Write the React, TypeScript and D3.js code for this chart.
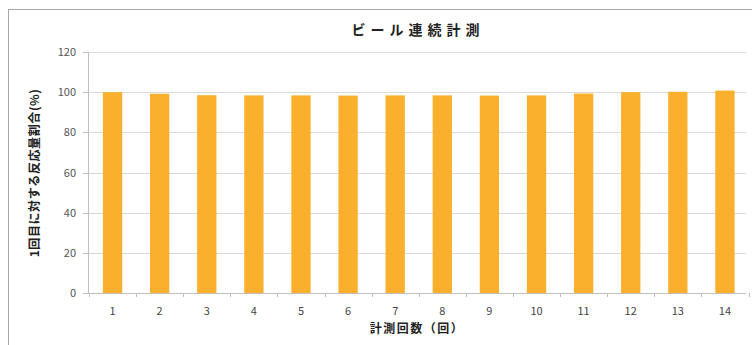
import React from "react";
import * as d3 from "d3";

const categories = ["1","2","3","4","5","6","7","8","9","10","11","12","13","14"];
const values = [100, 99.2, 98.5, 98.4, 98.4, 98.3, 98.4, 98.4, 98.3, 98.4, 99.3, 100, 100.2, 100.8];
const yTicks = [0, 20, 40, 60, 80, 100, 120];
const title = "ビール連続計測";
const xTitle = "計測回数（回）";
const yTitle = "1回目に対する反応量割合(%)";

export default function App() {
  const W = 752, H = 345;
  const left = 89, right = 748.5, top = 52, bottom = 293;
  const x = d3.scaleBand<string>().domain(categories).range([left, right]).paddingInner(0.59).paddingOuter(0.295);
  const y = d3.scaleLinear().domain([0, 120]).range([bottom, top]);
  const font = "'Noto Sans CJK JP', 'Noto Sans', sans-serif";
  const step = x.step();
  const boundaries = d3.range(categories.length + 1).map(i => left + i * step);
  return (
    <svg width={W} height={H} style={{ position: "absolute", left: 0, top: 0 }} fontFamily={font}>
      <rect x={0} y={0} width={W} height={H} fill="#fff" />
      <rect x={8.5} y={9.5} width={W} height={H} fill="#fff" stroke="#a6a6a6" strokeWidth={1} />
      <text x={418} y={35} textAnchor="middle" fontSize={14} fontWeight="bold" fill="#222" letterSpacing={5}>{title}</text>
      {yTicks.map(t => (
        <g key={t}>
          <line x1={left} x2={746} y1={Math.round(y(t)) + 0.5} y2={Math.round(y(t)) + 0.5} stroke="#d9d9d9" />
          <line x1={83} x2={left} y1={Math.round(y(t)) + 0.5} y2={Math.round(y(t)) + 0.5} stroke="#bfbfbf" />
          <text x={76} y={y(t) + 4} textAnchor="end" fontSize={11} fill="#555">{t}</text>
        </g>
      ))}
      {categories.map((c, i) => (
        <rect key={c} x={x(c)} y={y(values[i])} width={x.bandwidth()} height={y(0) - y(values[i])} fill="#fbb02d" />
      ))}
      <line x1={left - 0.5} x2={left - 0.5} y1={top} y2={bottom} stroke="#bfbfbf" />
      <line x1={left} x2={746} y1={bottom + 0.5} y2={bottom + 0.5} stroke="#bfbfbf" />
      {boundaries.map((b, i) => (
        <line key={i} x1={Math.round(b) + 0.5} x2={Math.round(b) + 0.5} y1={bottom} y2={bottom + 4} stroke="#bfbfbf" />
      ))}
      {categories.map(c => (
        <text key={c} x={(x(c) as number) + x.bandwidth() / 2} y={315} textAnchor="middle" fontSize={11} fill="#444">{c}</text>
      ))}
      <text x={417} y={333} textAnchor="middle" fontSize={12} fontWeight="bold" fill="#222" letterSpacing={1.5}>{xTitle}</text>
      <text transform={`translate(39,${173}) rotate(-90)`} textAnchor="middle" fontSize={12} fontWeight="bold" fill="#222" letterSpacing={0.6}>{yTitle}</text>
    </svg>
  );
}
